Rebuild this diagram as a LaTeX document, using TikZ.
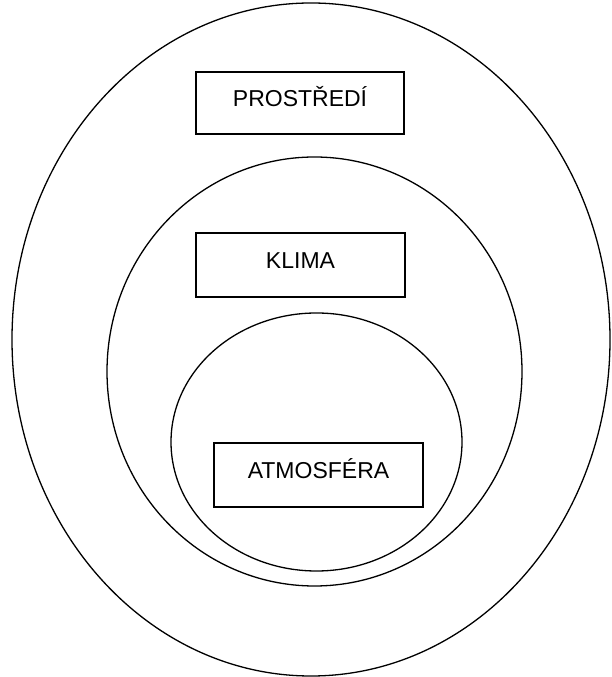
\documentclass[tikz,border=0pt]{standalone}
\usepackage{fontspec}
\setmainfont{Liberation Sans}
\usetikzlibrary{shapes.geometric}
\tikzset{
  ring/.style={draw=black, line width=1.3pt, ellipse, inner sep=0pt},
  label box/.style={draw=black, line width=1.4pt, rectangle, inner sep=0pt,
    font=\fontsize{23}{27}\selectfont, text height=17pt, text depth=10pt}
}
\begin{document}
\begin{tikzpicture}[x=1pt,y=1pt]
\useasboundingbox (0,0) rectangle (611,677);
\node[ring, minimum width=598pt, minimum height=673pt] (outer) at (311,337.5) {};
\node[ring, minimum width=415pt, minimum height=429pt] (middle) at (314.5,305.5) {};
\node[ring, minimum width=291pt, minimum height=258pt] (inner) at (316.5,235) {};
\node[label box, minimum width=208pt, minimum height=62pt] (prostredi) at (300,574) {PROSTŘEDÍ};
\node[label box, minimum width=209pt, minimum height=64pt] (klima) at (300.5,412) {KLIMA};
\node[label box, minimum width=209pt, minimum height=64pt] (atmosfera) at (318.5,202) {ATMOSFÉRA};
\end{tikzpicture}
\end{document}
